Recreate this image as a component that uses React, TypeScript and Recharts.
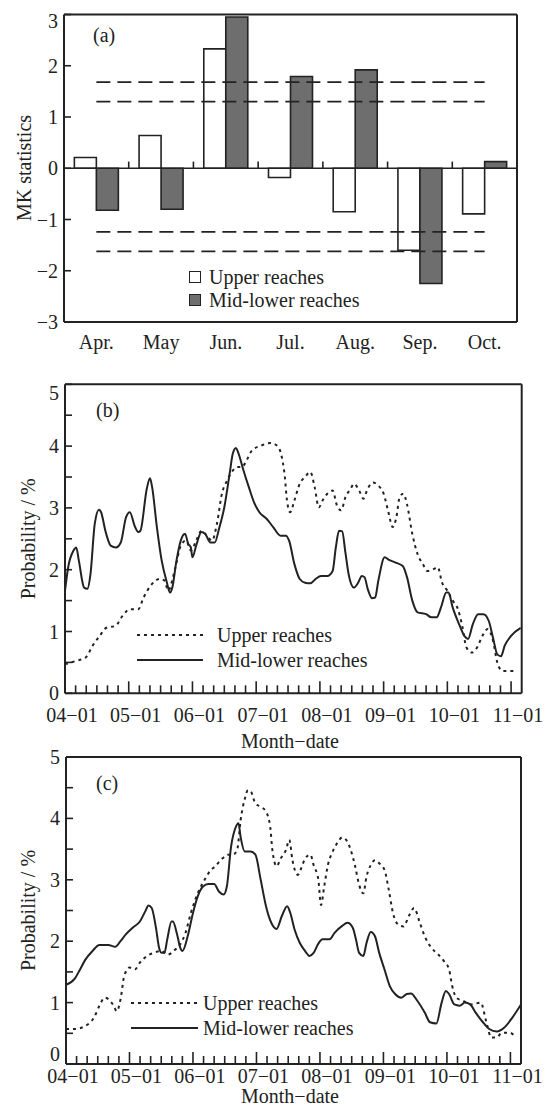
import React from 'react';
import { BarChart, Bar, XAxis, YAxis, ReferenceLine, Legend, LineChart, Line } from 'recharts';

// ---------- Panel (a): MK statistics ----------
const months = ['Apr.', 'May', 'Jun.', 'Jul.', 'Aug.', 'Sep.', 'Oct.'];
const mkUpper = [0.21, 0.64, 2.33, -0.18, -0.85, -1.6, -0.89];
const mkMid = [-0.82, -0.8, 2.95, 1.79, 1.92, -2.25, 0.13];
const mkTicks = [-3, -2, -1, 0, 1, 2, 3];
const mkThresholds = [1.68, 1.3, -1.24, -1.62];
const seriesNames = ['Upper reaches', 'Mid-lower reaches'];

// ---------- Panels (b), (c): x in pentads from 04-01 ----------
const dateLabels = ['04−01', '05−01', '06−01', '07−01', '08−01', '09−01', '10−01', '11−01'];
const pentadTicks = Array.from({ length: 43 }, (_, i) => i);
const probTicks = [0, 0.5, 1, 1.5, 2, 2.5, 3, 3.5, 4, 4.5, 5];

const bMidP = [0, 0.3, 0.8, 1.06, 1.3, 1.8, 2.1, 2.4, 2.8, 3.2, 3.4, 3.8, 4.3, 4.8, 5.25, 5.75, 6.1, 6.6, 6.9, 7.1, 7.7, 8.0, 8.2, 8.65, 9.1, 9.55, 9.9, 10.1, 10.5, 10.9, 11.3, 11.6, 11.85, 12.0, 12.35, 12.85, 13.2, 13.7, 14.1, 14.5, 15.0, 15.5, 15.8, 16.1, 16.3, 16.8, 17.3, 17.8, 18.3, 19.0, 19.6, 20.3, 20.8, 21.1, 21.6, 22.1, 22.6, 23.1, 23.6, 24.1, 24.7, 25.2, 25.5, 25.8, 26.1, 26.4, 26.7, 27.2, 27.6, 27.95, 28.2, 28.5, 28.9, 29.2, 29.5, 30.1, 30.5, 31.2, 31.8, 32.2, 32.7, 33.2, 34.0, 34.5, 35.0, 35.4, 35.9, 36.1, 36.5, 37.1, 37.6, 37.95, 38.4, 38.9, 39.4, 39.9, 40.3, 40.7, 41.05, 41.4, 42.0, 42.9];
const bMidV = [1.66, 2.04, 2.31, 2.36, 2.15, 1.71, 1.69, 1.93, 2.74, 2.97, 2.93, 2.63, 2.39, 2.36, 2.44, 2.85, 2.93, 2.69, 2.61, 2.63, 3.31, 3.48, 3.34, 2.69, 2.15, 1.82, 1.63, 1.71, 2.15, 2.47, 2.58, 2.42, 2.36, 2.2, 2.39, 2.61, 2.58, 2.44, 2.44, 2.66, 3.01, 3.55, 3.88, 3.97, 3.9, 3.61, 3.34, 3.09, 2.93, 2.82, 2.69, 2.55, 2.55, 2.47, 2.09, 1.85, 1.79, 1.78, 1.85, 1.9, 1.9, 1.98, 2.36, 2.63, 2.62, 2.28, 1.93, 1.71, 1.79, 1.9, 1.88, 1.69, 1.54, 1.55, 1.82, 2.2, 2.16, 2.11, 2.06, 1.88, 1.5, 1.31, 1.28, 1.23, 1.23, 1.39, 1.63, 1.63, 1.39, 1.12, 0.93, 0.88, 1.12, 1.28, 1.28, 1.17, 0.9, 0.63, 0.6, 0.77, 0.93, 1.06];

const bUpP = [0, 0.96, 1.95, 2.6, 3.27, 3.9, 4.75, 5.4, 6.1, 6.9, 7.4, 8.06, 8.9, 9.4, 9.7, 10.4, 10.9, 11.4, 11.85, 12.35, 12.85, 13.35, 13.85, 14.3, 14.8, 15.2, 15.7, 16.2, 16.65, 17.1, 17.6, 18.5, 19.3, 19.95, 20.3, 20.7, 20.9, 21.2, 21.6, 22.1, 22.6, 23.1, 23.5, 23.9, 24.25, 24.7, 25.2, 25.6, 26.0, 26.4, 26.9, 27.2, 27.7, 28.1, 28.5, 29.0, 29.5, 30.0, 30.45, 30.85, 31.2, 31.5, 31.85, 32.2, 32.7, 33.2, 33.7, 34.1, 34.7, 35.1, 35.5, 36.0, 36.5, 37.0, 37.4, 37.8, 38.3, 38.8, 39.3, 39.8, 40.3, 40.7, 41.2, 41.8, 42.3];
const bUpV = [0.47, 0.52, 0.58, 0.77, 0.93, 1.06, 1.09, 1.25, 1.36, 1.36, 1.55, 1.74, 1.85, 1.82, 1.66, 2.04, 2.39, 2.47, 2.31, 2.47, 2.63, 2.55, 2.47, 2.74, 3.25, 3.42, 3.58, 3.66, 3.66, 3.77, 3.93, 4.01, 4.05, 4.01, 3.9, 3.5, 3.12, 2.93, 3.12, 3.39, 3.5, 3.58, 3.34, 3.01, 3.12, 3.23, 3.28, 3.04, 2.96, 3.17, 3.31, 3.39, 3.28, 3.15, 3.31, 3.41, 3.36, 3.23, 2.93, 2.69, 2.85, 3.17, 3.23, 3.06, 2.58, 2.25, 2.09, 1.98, 2.01, 2.04, 1.79, 1.66, 1.5, 1.36, 1.09, 0.74, 0.66, 0.74, 0.93, 1.04, 0.85, 0.5, 0.36, 0.36, 0.36];

const cMidP = [0, 0.83, 1.33, 1.83, 2.5, 3.16, 4.0, 4.65, 5.15, 5.65, 6.3, 6.98, 7.5, 7.8, 8.1, 8.5, 8.8, 9.05, 9.3, 9.57, 9.97, 10.1, 10.5, 10.8, 11.0, 11.5, 12.0, 12.45, 12.95, 13.45, 14.0, 14.45, 14.9, 15.2, 15.6, 16.0, 16.3, 16.5, 16.9, 17.45, 17.9, 18.4, 18.9, 19.4, 19.9, 20.4, 20.9, 21.2, 21.6, 22.1, 22.6, 23.0, 23.4, 23.85, 24.25, 24.9, 25.4, 26.1, 26.6, 27.1, 27.4, 27.7, 28.1, 28.4, 28.8, 29.2, 29.6, 30.1, 30.6, 31.1, 31.7, 32.2, 32.6, 33.2, 33.9, 34.4, 35.0, 35.5, 35.9, 36.2, 36.7, 37.2, 37.7, 38.2, 38.7, 39.4, 40.0, 40.7, 41.4, 42.2, 43.0];
const cMidV = [1.29, 1.39, 1.54, 1.7, 1.84, 1.94, 1.94, 1.91, 2.0, 2.11, 2.22, 2.32, 2.49, 2.58, 2.54, 2.22, 1.89, 1.81, 1.81, 2.03, 2.32, 2.32, 2.11, 1.89, 1.84, 2.08, 2.46, 2.73, 2.89, 2.93, 2.93, 2.81, 2.76, 2.89, 3.54, 3.84, 3.92, 3.7, 3.46, 3.46, 3.41, 3.0, 2.57, 2.3, 2.2, 2.41, 2.57, 2.46, 2.19, 1.97, 1.84, 1.76, 1.81, 1.96, 2.03, 2.03, 2.14, 2.25, 2.3, 2.22, 2.03, 1.81, 1.76, 1.97, 2.15, 2.08, 1.81, 1.54, 1.27, 1.14, 1.08, 1.14, 1.15, 1.03, 0.84, 0.68, 0.66, 1.0, 1.19, 1.14, 0.97, 0.95, 1.0, 0.97, 0.84, 0.68, 0.57, 0.53, 0.59, 0.76, 0.97];

const cUpP = [0, 0.83, 1.83, 2.66, 3.16, 3.65, 4.05, 4.5, 4.8, 5.15, 5.5, 6.0, 6.5, 6.98, 7.65, 8.3, 9.0, 9.6, 10.3, 10.8, 11.3, 11.8, 12.45, 13.1, 13.6, 14.1, 14.8, 15.3, 15.8, 16.2, 16.5, 16.9, 17.2, 17.5, 17.9, 18.4, 18.9, 19.3, 19.5, 19.9, 20.3, 20.8, 21.1, 21.4, 21.9, 22.3, 22.6, 23.1, 23.4, 23.85, 24.1, 24.4, 24.75, 25.2, 25.6, 26.1, 26.6, 26.9, 27.3, 27.7, 28.1, 28.4, 28.8, 29.2, 29.6, 30.1, 30.5, 30.9, 31.4, 31.9, 32.4, 32.9, 33.4, 33.9, 34.55, 35.2, 35.7, 36.2, 36.5, 36.9, 37.5, 38.3, 39.2, 39.7, 40.2, 40.7, 41.2, 41.9, 42.4];
const cUpV = [0.57, 0.57, 0.62, 0.76, 0.95, 1.08, 1.05, 0.95, 0.86, 1.05, 1.43, 1.57, 1.54, 1.65, 1.76, 1.81, 1.84, 1.78, 1.86, 1.95, 2.14, 2.46, 2.78, 3.0, 3.14, 3.22, 3.35, 3.41, 3.41, 3.51, 3.97, 4.32, 4.46, 4.43, 4.24, 4.19, 4.11, 3.86, 3.49, 3.22, 3.35, 3.49, 3.65, 3.32, 3.08, 3.22, 3.35, 3.41, 3.24, 3.0, 2.59, 2.89, 3.24, 3.46, 3.59, 3.69, 3.62, 3.49, 3.24, 2.92, 2.78, 3.05, 3.24, 3.32, 3.27, 3.16, 2.84, 2.46, 2.27, 2.24, 2.41, 2.54, 2.32, 2.08, 1.89, 1.78, 1.68, 1.54, 1.27, 1.08, 1.03, 0.97, 1.0, 0.7, 0.43, 0.43, 0.51, 0.51, 0.46];

const toPts = (p: number[], v: number[]) => p.map((x, i) => ({ p: x, v: v[i] }));
const mkData = months.map((m, i) => ({ m, up: mkUpper[i], mid: mkMid[i] }));

const FONT = '"Liberation Serif", "Times New Roman", serif';
const INK = '#222';
const FS = 20;

const fmt = (v: number) => (v < 0 ? '−' + Math.abs(v) : String(v));

function YTick(props: any) {
  const { y, payload, left, len, topValue, topDy = 0, botValue, botDy = 0 } = props;
  const v = payload.value;
  const labelled = Number.isInteger(v);
  let dy = 0;
  if (v === topValue) dy = topDy;
  if (v === botValue) dy = botDy;
  return (
    <g>
      <line x1={left} x2={left + len} y1={y} y2={y} stroke={INK} strokeWidth={1.6} />
      {labelled ? (
        <text x={left - 6} y={y + dy} textAnchor="end" dominantBaseline="central" fontFamily={FONT} fontSize={FS} fill={INK}>
          {fmt(v)}
        </text>
      ) : null}
    </g>
  );
}

function MonthTick(props: any) {
  const { x, payload, labelY } = props;
  return (
    <text x={x} y={labelY} textAnchor="middle" dominantBaseline="central" fontFamily={FONT} fontSize={FS} fill={INK}>
      {payload.value}
    </text>
  );
}

function PentadTick(props: any) {
  const { x, payload, bottom, labelDy } = props;
  const v = payload.value;
  const major = v % 6 === 0;
  const lab = major ? dateLabels[v / 6] : null;
  return (
    <g>
      <line x1={x} x2={x} y1={bottom} y2={bottom - (major ? 12 : 8)} stroke={INK} strokeWidth={1.6} />
      {lab ? (
        <text x={x + 7} y={bottom + labelDy} textAnchor="middle" dominantBaseline="central" fontFamily={FONT} fontSize={FS} fill={INK}>
          {lab}
        </text>
      ) : null}
    </g>
  );
}

function AxisTitle(props: any) {
  const { cx, cy, text, rotate } = props;
  return (
    <text
      x={cx}
      y={cy}
      transform={rotate ? `rotate(-90 ${cx} ${cy})` : undefined}
      textAnchor="middle"
      dominantBaseline="central"
      fontFamily={FONT}
      fontSize={FS}
      fill={INK}
    >
      {text}
    </text>
  );
}

const barFills = ['#ffffff', '#6e6e6e'];

function BarLegend() {
  return (
    <div style={{ fontFamily: FONT, fontSize: FS, color: INK, lineHeight: '23px' }}>
      {seriesNames.map((n, i) => (
        <div key={n} style={{ display: 'flex', alignItems: 'center', whiteSpace: 'nowrap' }}>
          <span
            style={{
              display: 'inline-block',
              width: 10,
              height: 10,
              border: `1.6px solid ${INK}`,
              background: barFills[i],
              marginRight: 8,
            }}
          />
          {n}
        </div>
      ))}
    </div>
  );
}

function LineLegend(props: any) {
  const { sampleW, gap } = props;
  const dashes = ['3 4', undefined];
  return (
    <div style={{ fontFamily: FONT, fontSize: FS, color: INK, lineHeight: '25px' }}>
      {seriesNames.map((n, i) => (
        <div key={n} style={{ display: 'flex', alignItems: 'center', whiteSpace: 'nowrap' }}>
          <svg width={sampleW} height={6} style={{ marginRight: gap }}>
            <line x1={0} x2={sampleW} y1={3} y2={3} stroke={INK} strokeWidth={2.2} strokeDasharray={dashes[i]} />
          </svg>
          {n}
        </div>
      ))}
    </div>
  );
}

const frame = { stroke: INK, strokeWidth: 2 };

function ProbPanel(props: any) {
  const { top, height, plotTop, plotBottom, left, right, up, mid, tag, labelDy, titleY, legendLeft, legendTop, sampleW, gap, topDy, botDy } = props;
  const mTop = plotTop - top;
  const xH = top + height - plotBottom;
  return (
    <div style={{ position: 'absolute', left: 0, top }}>
      <LineChart width={550} height={height} margin={{ top: mTop, right: 550 - right, left: 0, bottom: 0 }}>
        <XAxis
          dataKey="p"
          type="number"
          domain={[0, 43]}
          ticks={pentadTicks}
          interval={0}
          allowDataOverflow
          height={xH}
          axisLine={frame}
          tickLine={false}
          tick={<PentadTick bottom={plotBottom - top} labelDy={labelDy} />}
          label={<AxisTitle cx={290} cy={titleY - top} text="Month−date" />}
        />
        <YAxis
          type="number"
          domain={[0, 5]}
          ticks={probTicks}
          interval={0}
          width={left}
          axisLine={frame}
          tickLine={false}
          tick={<YTick left={left} len={7} topValue={5} topDy={topDy} botValue={0} botDy={botDy} />}
          label={<AxisTitle cx={28} cy={(plotTop + plotBottom) / 2 - top} rotate text="Probability / %" />}
        />
        <ReferenceLine y={5} {...frame} />
        <ReferenceLine x={43} {...frame} />
        <Legend
          verticalAlign="middle"
          content={<LineLegend sampleW={sampleW} gap={gap} />}
          wrapperStyle={{ left: legendLeft, top: legendTop - top, width: 'auto' }}
        />
        <Line data={up} dataKey="v" name={seriesNames[0]} type="monotone" stroke={INK} strokeWidth={2} strokeDasharray="3 4" dot={false} activeDot={false} isAnimationActive={false} />
        <Line data={mid} dataKey="v" name={seriesNames[1]} type="monotone" stroke={INK} strokeWidth={2} dot={false} activeDot={false} isAnimationActive={false} />
      </LineChart>
      <div style={{ position: 'absolute', left: 96, top: plotTop + 26 - top - 12, fontFamily: FONT, fontSize: FS, color: INK, lineHeight: '24px' }}>{tag}</div>
    </div>
  );
}

export default function App() {
  return (
    <div style={{ position: 'absolute', left: 0, top: 0, width: 550, height: 1107, background: '#fff' }}>
      {/* Panel (a) */}
      <div style={{ position: 'absolute', left: 0, top: 0 }}>
        <BarChart width={550} height={360} data={mkData} margin={{ top: 14.5, right: 33, left: 0, bottom: 0 }} barCategoryGap="16%" barGap={0}>
          <XAxis dataKey="m" height={38} axisLine={frame} tickLine={false} interval={0} tick={<MonthTick labelY={342} />} />
          <YAxis
            type="number"
            domain={[-3, 3]}
            ticks={mkTicks}
            interval={0}
            width={64}
            axisLine={frame}
            tickLine={false}
            tick={<YTick left={64} len={7} topValue={3} topDy={6} />}
            label={<AxisTitle cx={24} cy={168} rotate text="MK statistics" />}
          />
          {mkThresholds.map((t) => (
            <ReferenceLine
              key={t}
              segment={[{ x: months[0], y: t }, { x: months[months.length - 1], y: t }]}
              stroke={INK}
              strokeWidth={1.8}
              strokeDasharray="14 7"
            />
          ))}
          <Legend verticalAlign="middle" content={<BarLegend />} wrapperStyle={{ left: 189, top: 265.5, width: 'auto' }} />
          <Bar dataKey="up" name={seriesNames[0]} fill={barFills[0]} stroke={INK} strokeWidth={1.6} isAnimationActive={false} />
          <Bar dataKey="mid" name={seriesNames[1]} fill={barFills[1]} stroke={INK} strokeWidth={1.6} isAnimationActive={false} />
          <ReferenceLine y={0} stroke={INK} strokeWidth={1.6} />
          <ReferenceLine y={3} {...frame} />
          <ReferenceLine x={months[months.length - 1]} position="end" {...frame} />
          {months.slice(0, months.length - 1).map((m) => (
            <ReferenceLine key={m} segment={[{ x: m, y: 0 }, { x: m, y: 0.13 }]} position="end" stroke={INK} strokeWidth={1.6} />
          ))}
        </BarChart>
        <div style={{ position: 'absolute', left: 93, top: 23, fontFamily: FONT, fontSize: FS, color: INK, lineHeight: '24px' }}>(a)</div>
      </div>

      {/* Panel (b) */}
      <ProbPanel
        top={370}
        height={385}
        plotTop={384.3}
        plotBottom={693.3}
        left={65}
        right={521.7}
        up={toPts(bUpP, bUpV)}
        mid={toPts(bMidP, bMidV)}
        tag="(b)"
        labelDy={22}
        titleY={741}
        legendLeft={137}
        legendTop={622.5}
        sampleW={66}
        gap={14}
        topDy={9}
        botDy={0}
      />

      {/* Panel (c) */}
      <ProbPanel
        top={740}
        height={367}
        plotTop={757}
        plotBottom={1064}
        left={66}
        right={521}
        up={toPts(cUpP, cUpV)}
        mid={toPts(cMidP, cMidV)}
        tag="(c)"
        labelDy={12}
        titleY={1096}
        legendLeft={131}
        legendTop={990.5}
        sampleW={67}
        gap={5}
        topDy={0}
        botDy={-10}
      />
    </div>
  );
}
